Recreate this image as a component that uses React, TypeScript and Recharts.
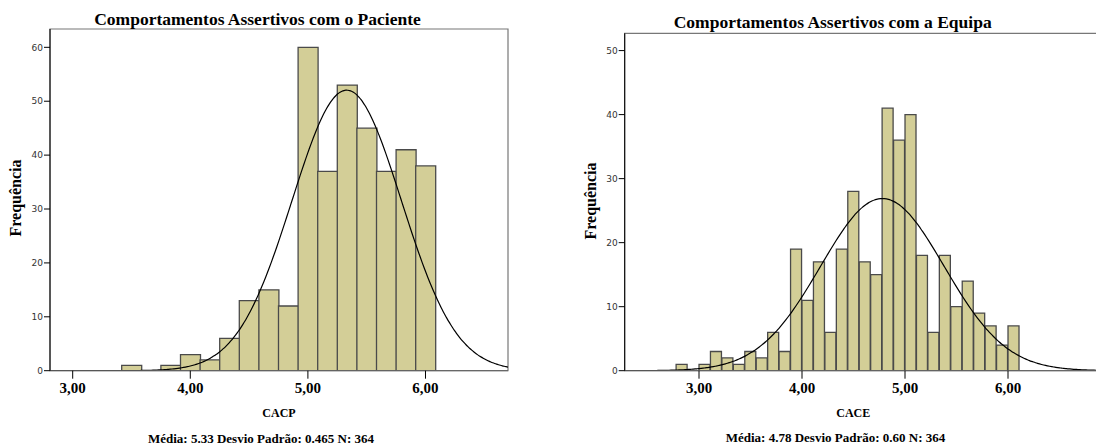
import { ComposedChart, Bar, Line, XAxis, YAxis, ReferenceArea } from "recharts"

const SERIF = '"Liberation Serif", "Times New Roman", serif'
const SANS = '"DejaVu Sans", sans-serif'

// CACP - Comportamentos Assertivos com o Paciente (bin midpoints, width 1/6)
const cacpBins = [3.5, 3.6667, 3.8333, 4.0, 4.1667, 4.3333, 4.5, 4.6667, 4.8333, 5.0, 5.1667, 5.3333, 5.5, 5.6667, 5.8333, 6.0]
const cacpCounts = [1, 0, 1, 3, 2, 6, 13, 15, 12, 60, 37, 53, 45, 37, 41, 38]
const cacpMean = 5.33
const cacpSd = 0.465
const cacpN = 364
const cacpBinWidth = 1 / 6

// CACE - Comportamentos Assertivos com a Equipa (bin midpoints, width 1/9)
const caceBins = [
    2.8333, 2.9444, 3.0556, 3.1667, 3.2778, 3.3889, 3.5, 3.6111, 3.7222, 3.8333,
    3.9444, 4.0556, 4.1667, 4.2778, 4.3889, 4.5, 4.6111, 4.7222, 4.8333, 4.9444,
    5.0556, 5.1667, 5.2778, 5.3889, 5.5, 5.6111, 5.7222, 5.8333, 5.9444, 6.0556,
]
const caceCounts = [
    1, 0, 1, 3, 2, 1, 3, 2, 6, 3,
    19, 11, 17, 6, 19, 28, 17, 15, 41, 36,
    40, 18, 6, 18, 10, 14, 9, 7, 4, 7,
]
const caceMean = 4.78
const caceSd = 0.6
const caceN = 364
const caceBinWidth = 1 / 9

const xTicks = [3, 4, 5, 6]
const cacpYTicks = [0, 10, 20, 30, 40, 50, 60]
const caceYTicks = [0, 10, 20, 30, 40, 50]

// fitted normal curve, scaled to counts (mean, sd, N as printed under each chart)
function normalCurve(lo: number, hi: number, mean: number, sd: number, n: number, binWidth: number) {
    const pts: { x: number; y: number }[] = []
    const steps = 240
    for (let i = 0; i <= steps; i++) {
        const x = lo + ((hi - lo) * i) / steps
        const z = (x - mean) / sd
        pts.push({ x, y: (n * binWidth * Math.exp(-0.5 * z * z)) / (sd * Math.sqrt(2 * Math.PI)) })
    }
    return pts
}

interface HistProps {
    bins: number[]
    counts: number[]
    mean: number
    sd: number
    n: number
    binWidth: number
    xDomain: [number, number]
    yMax: number
    yTicks: number[]
    width: number
    height: number
    margin: { top: number; right: number; bottom: number; left: number }
    yAxisWidth: number
}

function Histogram({ bins, counts, mean, sd, n, binWidth, xDomain, yMax, yTicks, width, height, margin, yAxisWidth }: HistProps) {
    const data = bins.map((x, i) => ({ x, count: counts[i] }))
    const curve = normalCurve(xDomain[0], xDomain[1], mean, sd, n, binWidth)
    return (
        <ComposedChart width={width} height={height} data={data} margin={margin} barCategoryGap={0} barGap={0}>
            <XAxis xAxisId="bin" dataKey="x" type="number" domain={xDomain} hide height={0} allowDataOverflow />
            <XAxis
                xAxisId="val"
                dataKey="x"
                type="number"
                domain={xDomain}
                ticks={xTicks}
                allowDataOverflow
                tickFormatter={(v: number) => v.toFixed(2).replace(".", ",")}
                height={30}
                tickSize={8}
                tickMargin={4}
                stroke="#666"
                tickLine={{ stroke: "#000" }}
                tick={{ fill: "#000", fontFamily: SERIF, fontWeight: "bold", fontSize: 15 }}
            />
            <YAxis
                domain={[0, yMax]}
                ticks={yTicks}
                allowDataOverflow
                width={yAxisWidth}
                tickSize={6}
                tickMargin={1}
                stroke="#000"
                tick={{ fill: "#333", fontFamily: SANS, fontSize: 9 }}
            />
            <ReferenceArea
                xAxisId="val"
                x1={xDomain[0]}
                x2={xDomain[1]}
                y1={0}
                y2={yMax}
                fill="none"
                stroke="#777"
                strokeWidth={1.2}
                ifOverflow="visible"
            />
            <Bar xAxisId="bin" dataKey="count" fill="#d3ce97" stroke="#4a4a4a" strokeWidth={1.3} isAnimationActive={false} />
            <Line
                xAxisId="val"
                data={curve}
                dataKey="y"
                type="monotone"
                dot={false}
                stroke="#000"
                strokeWidth={1.2}
                isAnimationActive={false}
            />
        </ComposedChart>
    )
}

const boldSerif = { fontFamily: SERIF, fontWeight: "bold" as const, fill: "#000" }

export default function App() {
    return (
        <div style={{ position: "absolute", left: 0, top: 0, width: 1096, height: 446, overflow: "hidden", background: "#fff" }}>
            <div style={{ position: "absolute", left: 0, top: 0 }}>
                <Histogram
                    bins={cacpBins}
                    counts={cacpCounts}
                    mean={cacpMean}
                    sd={cacpSd}
                    n={cacpN}
                    binWidth={cacpBinWidth}
                    xDomain={[2.807, 6.7016]}
                    yMax={63.4}
                    yTicks={cacpYTicks}
                    width={548}
                    height={446}
                    margin={{ top: 29, right: 40, bottom: 45.3, left: 0 }}
                    yAxisWidth={50}
                />
            </div>
            <div style={{ position: "absolute", left: 548, top: 0 }}>
                <Histogram
                    bins={caceBins}
                    counts={caceCounts}
                    mean={caceMean}
                    sd={caceSd}
                    n={caceN}
                    binWidth={caceBinWidth}
                    xDomain={[2.2786, 6.9708]}
                    yMax={52.7}
                    yTicks={caceYTicks}
                    width={560}
                    height={446}
                    margin={{ top: 33.3, right: 0, bottom: 45.3, left: 0 }}
                    yAxisWidth={76.7}
                />
            </div>
            <svg width={1096} height={446} style={{ position: "absolute", left: 0, top: 0, pointerEvents: "none" }}>
                <text x={257.5} y={25} textAnchor="middle" fontSize={17.5} {...boldSerif}>
                    Comportamentos Assertivos com o Paciente
                </text>
                <text x={832.7} y={28.3} textAnchor="middle" fontSize={17.5} {...boldSerif}>
                    Comportamentos Assertivos com a Equipa
                </text>
                <text x={279} y={416.7} textAnchor="middle" fontSize={12} {...boldSerif}>
                    CACP
                </text>
                <text x={853.3} y={417.3} textAnchor="middle" fontSize={12} {...boldSerif}>
                    CACE
                </text>
                <text x={261} y={442.7} textAnchor="middle" fontSize={13} {...boldSerif}>
                    Média: 5.33 Desvio Padrão: 0.465 N: 364
                </text>
                <text x={835.5} y={442.3} textAnchor="middle" fontSize={13} {...boldSerif}>
                    Média: 4.78 Desvio Padrão: 0.60 N: 364
                </text>
                <text x={20.5} y={198} textAnchor="middle" fontSize={16} transform="rotate(-90 20.5 198)" {...boldSerif}>
                    Frequência
                </text>
                <text x={595.5} y={201} textAnchor="middle" fontSize={16} transform="rotate(-90 595.5 201)" {...boldSerif}>
                    Frequência
                </text>
            </svg>
        </div>
    )
}
